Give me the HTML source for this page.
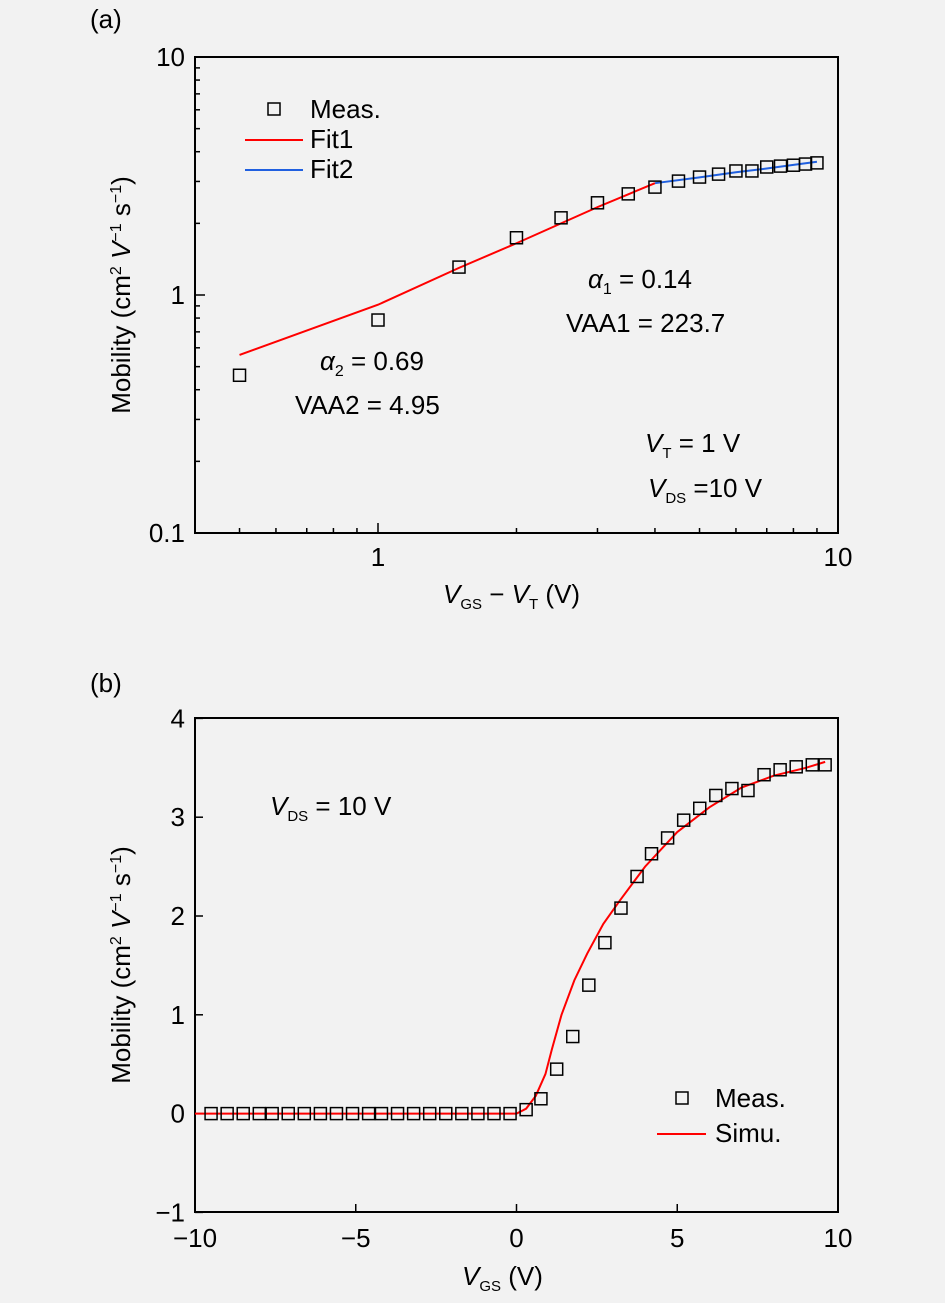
<!DOCTYPE html>
<html><head><meta charset="utf-8"><style>
body{margin:0;background:#f2f2f2;}
svg{display:block;font-family:"Liberation Sans",sans-serif;}
</style></head><body>
<svg id="s" width="945" height="1303" viewBox="0 0 945 1303">
<rect width="945" height="1303" fill="#f2f2f2"/>
<g id="ga"></g>
<g id="gb"></g>
</svg>
<script>
const aMeasX=[0.5,1,1.5,2,2.5,3,3.5,4,4.5,5,5.5,6,6.5,7,7.5,8,8.5,9];
const aMeasY=[0.46,0.785,1.31,1.74,2.11,2.44,2.66,2.84,3.01,3.13,3.22,3.32,3.32,3.45,3.48,3.51,3.55,3.59];
const aFit1X=[0.5,1,1.5,2,2.5,3,3.5,4];
const aFit1Y=[0.56,0.91,1.30,1.65,2.0,2.34,2.65,2.95];
const aFit2X=[4,5,6,7,8,9];
const aFit2Y=[2.95,3.12,3.28,3.40,3.52,3.63];
const aXTicks=[1,10];
const aYTicks=[0.1,1,10];
const bMeasX=[-9.5,-9.0,-8.5,-8.0,-7.6,-7.1,-6.6,-6.1,-5.6,-5.1,-4.6,-4.2,-3.7,-3.2,-2.7,-2.2,-1.7,-1.2,-0.7,-0.2,0.3,0.76,1.25,1.75,2.25,2.75,3.25,3.75,4.2,4.7,5.2,5.7,6.2,6.7,7.2,7.7,8.2,8.7,9.2,9.6];
const bMeasY=[0,0,0,0,0,0,0,0,0,0,0,0,0,0,0,0,0,0,0,0,0.04,0.15,0.45,0.78,1.3,1.73,2.08,2.4,2.63,2.79,2.97,3.09,3.22,3.29,3.27,3.43,3.48,3.51,3.53,3.53];
const bSimX=[-10,0,0.3,0.6,0.9,1.1,1.4,1.8,2.2,2.7,3.2,4,5,6,7,8,9,9.6];
const bSimY=[0,0,0.05,0.18,0.4,0.65,1.0,1.35,1.62,1.92,2.15,2.5,2.85,3.1,3.3,3.42,3.5,3.56];
const bXTicks=[-10,-5,0,5,10];
const bYTicks=[-1,0,1,2,3,4];
const NS='http://www.w3.org/2000/svg';
function mk(p,t,at,txt){const e=document.createElementNS(NS,t);for(const k in at)e.setAttribute(k,at[k]);if(txt!==undefined)e.textContent=txt;p.appendChild(e);return e;}
// panel a axes
const AL=195,AR=838,AT=57,AB=533;
const ax=v=>378+460*Math.log10(v);
const ay=v=>295-238*Math.log10(v);
const ga=document.getElementById('ga');
let e=mk(ga,'rect',{x:AL,y:AT,width:AR-AL,height:AB-AT,fill:'none',stroke:'#000','stroke-width':2});

for(let d=0.1;d<10;d*=10){for(let m=1;m<10;m++){const v=d*m;const y=ay(v);if(y<AT||y>AB)continue;const L=m==1?10:5;
e=mk(ga,'line',{x1:AL,x2:AL+L,y1:y,y2:y,stroke:'#000','stroke-width':1.5});}}
for(let m=4;m<=10;m++){const v=m/10;const x=ax(v);if(x<AL)continue;const L=m==10?10:5;
e=mk(ga,'line',{x1:x,x2:x,y1:AB,y2:AB-L,stroke:'#000','stroke-width':1.5});}
for(let m=2;m<10;m++){const x=ax(m);e=mk(ga,'line',{x1:x,x2:x,y1:AB,y2:AB-5,stroke:'#000','stroke-width':1.5});}
aYTicks.forEach(v=>{e=mk(ga,'text',{x:AL-10,y:ay(v)+9,'text-anchor':'end','font-size':26},String(v));});
aXTicks.forEach(v=>{e=mk(ga,'text',{x:ax(v),y:AB+33,'text-anchor':'middle','font-size':26},String(v));});
function line(g,X,Y,fx,fy,c,name){e=mk(g,'polyline',{points:X.map((v,i)=>fx(v)+','+fy(Y[i])).join(' '),fill:'none',stroke:c,'stroke-width':2});}
function sq(g,X,Y,fx,fy){X.forEach((v,i)=>{e=mk(g,'rect',{x:fx(v)-6,y:fy(Y[i])-6,width:12,height:12,fill:'none',stroke:'#000','stroke-width':1.5});});}
line(ga,aFit1X,aFit1Y,ax,ay,'#f00','fit1-line');
line(ga,aFit2X,aFit2Y,ax,ay,'#2060e0','fit2-line');
sq(ga,aMeasX,aMeasY,ax,ay);
// panel b
const BL=195,BR=838,BT=718,BB=1212;
const bx=v=>516.5+32.15*v;
const by=v=>1113.6-98.8*v;
const gb=document.getElementById('gb');
e=mk(gb,'rect',{x:BL,y:BT,width:BR-BL,height:BB-BT,fill:'none',stroke:'#000','stroke-width':2});

bYTicks.forEach(v=>{const y=by(v);e=mk(gb,'line',{x1:BL,x2:BL+8,y1:y,y2:y,stroke:'#000','stroke-width':1.5});
e=mk(gb,'text',{x:BL-10,y:y+9,'text-anchor':'end','font-size':26},v<0?'\u2212'+(-v):String(v));});
bXTicks.forEach(v=>{const x=bx(v);e=mk(gb,'line',{x1:x,x2:x,y1:BB,y2:BB-8,stroke:'#000','stroke-width':1.5});
e=mk(gb,'text',{x:x,y:BB+35,'text-anchor':'middle','font-size':26},v<0?'\u2212'+(-v):String(v));});
line(gb,bSimX,bSimY,bx,by,'#f00','simu-line');
sq(gb,bMeasX,bMeasY,bx,by);
</script>
<svg width="945" height="1303" style="position:absolute;left:0;top:0" font-family="Liberation Sans, sans-serif" font-size="26">
<text x="90" y="28">(a)</text>
<text x="90" y="692">(b)</text>
<g>
<rect x="268" y="103" width="12" height="12" fill="none" stroke="#000" stroke-width="1.5"/>
<text x="310" y="118">Meas.</text>
<line x1="245" x2="303" y1="140" y2="140" stroke="#f00" stroke-width="2"/>
<text x="310" y="148">Fit1</text>
<line x1="245" x2="303" y1="170" y2="170" stroke="#2060e0" stroke-width="2"/>
<text x="310" y="178">Fit2</text>
</g>
<text x="588" y="288"><tspan font-style="italic">α</tspan><tspan font-size="16" dy="6">1</tspan><tspan dy="-6"> = 0.14</tspan></text>
<text x="566" y="332">VAA1 = 223.7</text>
<text x="320" y="370"><tspan font-style="italic">α</tspan><tspan font-size="16" dy="6">2</tspan><tspan dy="-6"> = 0.69</tspan></text>
<text x="295" y="414">VAA2 = 4.95</text>
<text x="645" y="452"><tspan font-style="italic">V</tspan><tspan font-size="15" dy="6">T</tspan><tspan dy="-6"> = 1 V</tspan></text>
<text x="648" y="497"><tspan font-style="italic">V</tspan><tspan font-size="15" dy="6">DS</tspan><tspan dy="-6"> =10 V</tspan></text>
<text x="443" y="603"><tspan font-style="italic">V</tspan><tspan font-size="15" dy="6">GS</tspan><tspan dy="-6"> − </tspan><tspan font-style="italic">V</tspan><tspan font-size="15" dy="6">T</tspan><tspan dy="-6"> (V)</tspan></text>
<text transform="translate(130,295) rotate(-90)" text-anchor="middle">Mobility (cm<tspan font-size="16" dy="-9">2</tspan><tspan dy="9"> </tspan><tspan font-style="italic">V</tspan><tspan font-size="16" dy="-9">−1</tspan><tspan dy="9"> s</tspan><tspan font-size="16" dy="-9">−1</tspan><tspan dy="9">)</tspan></text>
<text x="270" y="815"><tspan font-style="italic">V</tspan><tspan font-size="15" dy="6">DS</tspan><tspan dy="-6"> = 10 V</tspan></text>
<g>
<rect x="676" y="1092" width="12" height="12" fill="none" stroke="#000" stroke-width="1.5"/>
<text x="715" y="1107">Meas.</text>
<line x1="657" x2="706" y1="1134" y2="1134" stroke="#f00" stroke-width="2"/>
<text x="715" y="1142">Simu.</text>
</g>
<text x="462" y="1285"><tspan font-style="italic">V</tspan><tspan font-size="15" dy="6">GS</tspan><tspan dy="-6"> (V)</tspan></text>
<text transform="translate(130,965) rotate(-90)" text-anchor="middle">Mobility (cm<tspan font-size="16" dy="-9">2</tspan><tspan dy="9"> </tspan><tspan font-style="italic">V</tspan><tspan font-size="16" dy="-9">−1</tspan><tspan dy="9"> s</tspan><tspan font-size="16" dy="-9">−1</tspan><tspan dy="9">)</tspan></text>
</svg>
</body></html>
